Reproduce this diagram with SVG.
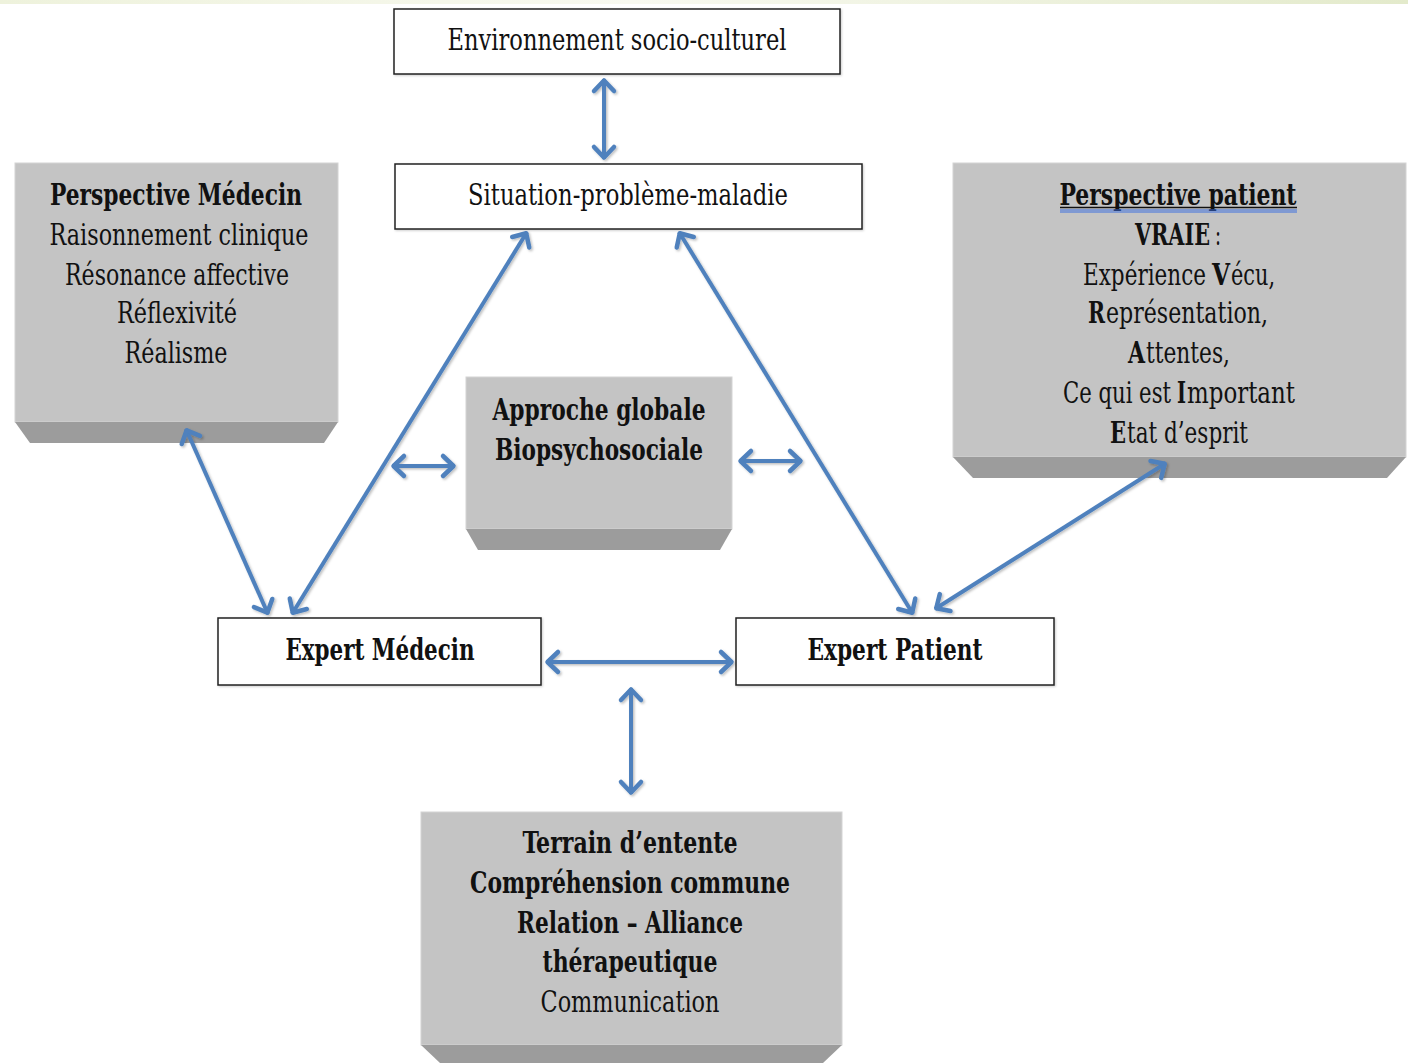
<svg xmlns="http://www.w3.org/2000/svg" width="1408" height="1063" viewBox="0 0 1408 1063">
<style>
.t{font-family:"DejaVu Serif Condensed","DejaVu Serif","Liberation Serif",serif;font-size:29px;fill:#111;text-anchor:middle}
.s{text-anchor:start}
.b{font-weight:bold}
.wbox{fill:#fff;stroke:#222;stroke-width:1.5}
.face{fill:#c4c4c4;stroke:#d4d4d4;stroke-width:1}
.bevel{fill:#9c9c9c}
.conn{stroke:#4f81bd;stroke-width:4;fill:none;marker-start:url(#ah);marker-end:url(#ah)}
</style>
<defs>
<linearGradient id="band" x1="0" x2="1" y1="0" y2="0">
<stop offset="0" stop-color="#eef2dc"/><stop offset="0.45" stop-color="#f8f9f0"/><stop offset="1" stop-color="#e3eacb"/>
</linearGradient>
<marker id="ah" markerUnits="userSpaceOnUse" orient="auto-start-reverse" refX="0" refY="0" markerWidth="30" markerHeight="30" overflow="visible">
<path d="M-12,-10 L-1.5,0 L-12,10" fill="none" stroke="#4f81bd" stroke-width="4.5" stroke-linecap="round" stroke-linejoin="round"/>
</marker>
<filter id="sh" filterUnits="userSpaceOnUse" x="0" y="0" width="1408" height="1063">
<feDropShadow dx="1.5" dy="1.5" stdDeviation="1" flood-color="#000" flood-opacity="0.25"/>
</filter>
<filter id="bsh" x="-5%" y="-5%" width="110%" height="110%">
<feDropShadow dx="1" dy="1" stdDeviation="1" flood-color="#000" flood-opacity="0.2"/>
</filter>
</defs>
<rect x="0" y="0" width="1408" height="1063" fill="#fff"/>
<rect x="0" y="0" width="1408" height="4" fill="url(#band)"/>

<g id="env">
<rect class="wbox" x="394" y="9" width="446" height="65" filter="url(#bsh)"/>
<text class="t" x="617" y="50" textLength="339" lengthAdjust="spacingAndGlyphs">Environnement socio-culturel</text>
</g>

<g id="situation">
<rect class="wbox" x="395" y="164" width="467" height="65" filter="url(#bsh)"/>
<text class="t" x="628" y="205" textLength="320" lengthAdjust="spacingAndGlyphs">Situation-problème-maladie</text>
</g>

<g id="perspective-medecin">
<rect class="face" x="15" y="163" width="323" height="259"/>
<polygon class="bevel" points="15,422 338,422 324,443 30,443"/>
<text class="t b" x="176" y="205" textLength="252" lengthAdjust="spacingAndGlyphs">Perspective Médecin</text>
<text class="t" x="179" y="245" textLength="259" lengthAdjust="spacingAndGlyphs">Raisonnement clinique</text>
<text class="t" x="177" y="285" textLength="224" lengthAdjust="spacingAndGlyphs">Résonance affective</text>
<text class="t" x="177" y="323" textLength="120" lengthAdjust="spacingAndGlyphs">Réflexivité</text>
<text class="t" x="176" y="363" textLength="103" lengthAdjust="spacingAndGlyphs">Réalisme</text>
</g>

<g id="perspective-patient">
<rect class="face" x="953" y="163" width="453" height="294"/>
<polygon class="bevel" points="953,457 1406,457 1387,478 973,478"/>
<text class="t b" x="1178" y="205" textLength="237" lengthAdjust="spacingAndGlyphs">Perspective patient</text>
<line x1="1060" y1="207.5" x2="1297" y2="207.5" stroke="#111" stroke-width="1.5"/>
<line x1="1060" y1="210" x2="1297" y2="210" stroke="#3a6fe0" stroke-width="1"/>
<line x1="1060" y1="212" x2="1297" y2="212" stroke="#3a6fe0" stroke-width="1"/>
<text class="t s b" x="1135" y="245" textLength="75" lengthAdjust="spacingAndGlyphs">VRAIE</text>
<text class="t s" x="1215" y="245" textLength="6" lengthAdjust="spacingAndGlyphs">:</text>
<text class="t s" x="1083" y="285" textLength="123" lengthAdjust="spacingAndGlyphs">Expérience</text>
<text class="t s b" x="1212" y="285" textLength="18" lengthAdjust="spacingAndGlyphs">V</text>
<text class="t s" x="1231" y="285" textLength="44" lengthAdjust="spacingAndGlyphs">écu,</text>
<text class="t s b" x="1088" y="323" textLength="17" lengthAdjust="spacingAndGlyphs">R</text>
<text class="t s" x="1106" y="323" textLength="162" lengthAdjust="spacingAndGlyphs">eprésentation,</text>
<text class="t s b" x="1128" y="363" textLength="17" lengthAdjust="spacingAndGlyphs">A</text>
<text class="t s" x="1146" y="363" textLength="84" lengthAdjust="spacingAndGlyphs">ttentes,</text>
<text class="t s" x="1063" y="403" textLength="108" lengthAdjust="spacingAndGlyphs">Ce qui est</text>
<text class="t s b" x="1177" y="403" textLength="9" lengthAdjust="spacingAndGlyphs">I</text>
<text class="t s" x="1187" y="403" textLength="108" lengthAdjust="spacingAndGlyphs">mportant</text>
<text class="t s b" x="1110" y="443" textLength="16" lengthAdjust="spacingAndGlyphs">E</text>
<text class="t s" x="1127" y="443" textLength="121" lengthAdjust="spacingAndGlyphs">tat d’esprit</text>
</g>

<g id="approche">
<rect class="face" x="466" y="377" width="266" height="152"/>
<polygon class="bevel" points="466,529 732,529 720,550 478,550"/>
<text class="t b" x="599" y="420" textLength="213" lengthAdjust="spacingAndGlyphs">Approche globale</text>
<text class="t b" x="599" y="460" textLength="208" lengthAdjust="spacingAndGlyphs">Biopsychosociale</text>
</g>

<g id="expert-medecin">
<rect class="wbox" x="218" y="618" width="323" height="67" filter="url(#bsh)"/>
<text class="t b" x="380" y="660" textLength="189" lengthAdjust="spacingAndGlyphs">Expert Médecin</text>
</g>

<g id="expert-patient">
<rect class="wbox" x="736" y="618" width="318" height="67" filter="url(#bsh)"/>
<text class="t b" x="895" y="660" textLength="175" lengthAdjust="spacingAndGlyphs">Expert Patient</text>
</g>

<g id="terrain">
<rect class="face" x="421" y="812" width="421" height="233"/>
<polygon class="bevel" points="421,1045 842,1045 823,1063 440,1063"/>
<text class="t b" x="630" y="853" textLength="215" lengthAdjust="spacingAndGlyphs">Terrain d’entente</text>
<text class="t b" x="630" y="893" textLength="320" lengthAdjust="spacingAndGlyphs">Compréhension commune</text>
<text class="t b" x="630" y="933" textLength="226" lengthAdjust="spacingAndGlyphs">Relation – Alliance</text>
<text class="t b" x="630" y="972" textLength="175" lengthAdjust="spacingAndGlyphs">thérapeutique</text>
<text class="t" x="630" y="1012" textLength="179" lengthAdjust="spacingAndGlyphs">Communication</text>
</g>

<g id="connectors" filter="url(#sh)">
<line class="conn" x1="604" y1="79" x2="604" y2="159"/>
<line class="conn" x1="527" y1="232" x2="292" y2="614"/>
<line class="conn" x1="679" y1="232" x2="913" y2="614"/>
<line class="conn" x1="186" y1="429" x2="268" y2="614"/>
<line class="conn" x1="1166" y1="463" x2="935" y2="609"/>
<line class="conn" x1="392" y1="466" x2="455" y2="466"/>
<line class="conn" x1="739" y1="461" x2="802" y2="461"/>
<line class="conn" x1="546" y1="662" x2="733" y2="662"/>
<line class="conn" x1="631" y1="688" x2="631" y2="794"/>
</g>
</svg>
